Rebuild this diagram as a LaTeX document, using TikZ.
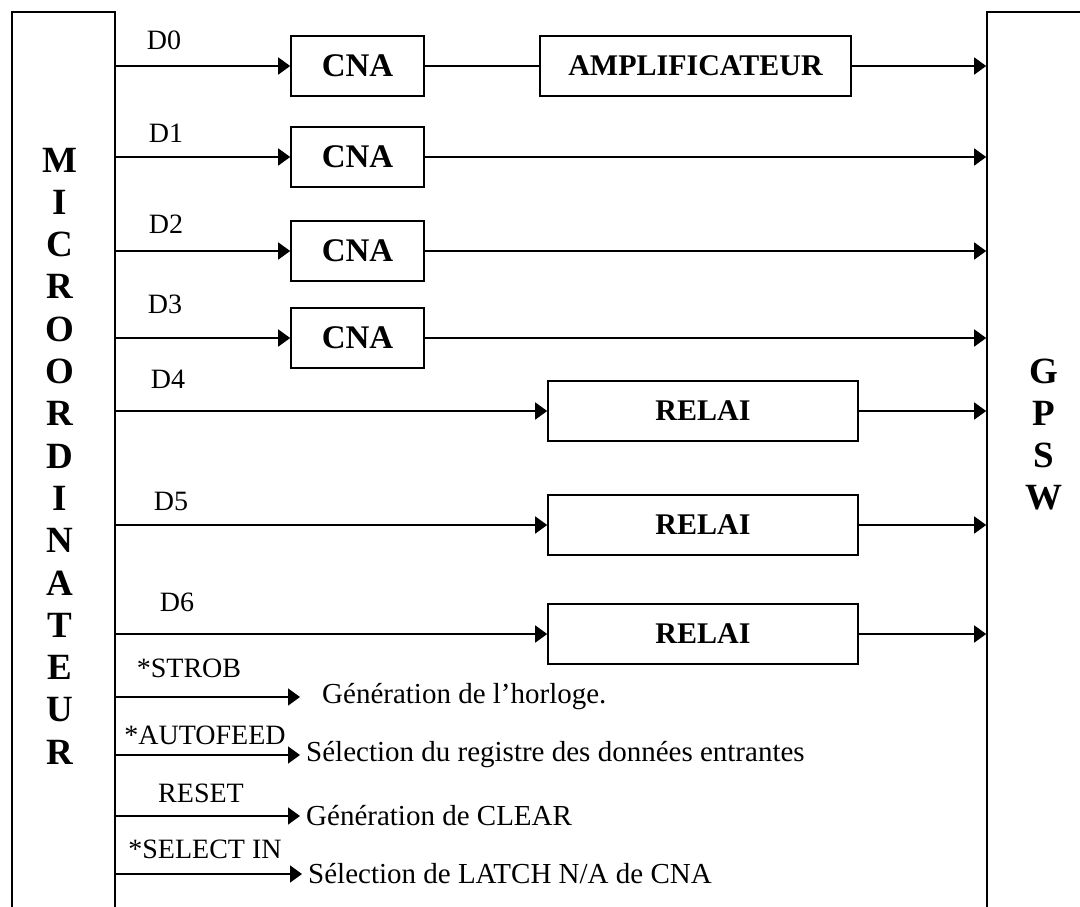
\documentclass[tikz,border=0pt]{standalone}
\usepackage{fontspec}
\setmainfont{Liberation Serif}
\usetikzlibrary{arrows.meta}

\begin{document}
\begin{tikzpicture}[x=1pt,y=-1pt,
		blk/.style={draw,line width=1.6pt,inner sep=0pt},
		cna/.style={blk,minimum width=133pt,minimum height=60pt,font=\fontsize{33}{38}\selectfont\bfseries},
		relai/.style={blk,minimum width=310pt,minimum height=60pt,font=\fontsize{30}{36}\selectfont\bfseries},
		lbl/.style={inner sep=0pt,font=\fontsize{28}{33}\selectfont},
		desc/.style={inner sep=0pt,anchor=west,inner xsep=6pt,font=\fontsize{29}{34}\selectfont},
		vert/.style={align=center,inner sep=0pt,font=\fontsize{37}{42.3}\selectfont\bfseries},
		wire/.style={line width=1.6pt},
		sig/.style={wire,-{Triangle[length=12pt,width=17pt]}}]
		\path[use as bounding box,clip] (0,0) rectangle (1080,906);
		\node[blk,minimum width=103pt,minimum height=918pt] (micro) at (63.5,471) {};
		\node[blk,minimum width=103pt,minimum height=918pt] (gps) at (1038.5,471) {};
		\node[vert] (microtxt) at (60,456) {M\\I\\C\\R\\O\\O\\R\\D\\I\\N\\A\\T\\E\\U\\R};
		\node[vert] (gpstxt) at (1044,434.5) {G\\P\\S\\W};
		\node[cna] (cna0) at (357.5,66) {CNA};
		\node[cna] (cna1) at (357.5,157) {CNA};
		\node[cna] (cna2) at (357.5,251) {CNA};
		\node[cna] (cna3) at (357.5,338) {CNA};
		\node[relai,minimum width=311pt] (ampli) at (695.5,66) {AMPLIFICATEUR};
		\node[relai] (rel4) at (703,411) {RELAI};
		\node[relai] (rel5) at (703,525) {RELAI};
		\node[relai] (rel6) at (703,634) {RELAI};
		\draw[sig] (micro.east |- cna0) -- (cna0.west);
		\draw[wire] (cna0.east) -- (ampli.west);
		\draw[sig] (ampli.east) -- (gps.west |- ampli);
		\foreach \n in {1,2,3} {
			\draw[sig] (micro.east |- cna\n) -- (cna\n.west);
			\draw[sig] (cna\n.east) -- (gps.west |- cna\n);
		}
		\foreach \n in {4,5,6} {
			\draw[sig] (micro.east |- rel\n) -- (rel\n.west);
			\draw[sig] (rel\n.east) -- (gps.west |- rel\n);
		}
		\foreach \n/\x/\y in {0/164/40,1/166/133,2/166/224,3/165/304,4/168/379,5/171/501,6/177/602}
			\node[lbl] (d\n) at (\x,\y) {D\n};
		\node[lbl] (strob) at (189,668) {*STROB};
		\node[lbl] (autofeed) at (205,735) {*AUTOFEED};
		\node[lbl] (reset) at (201,793) {RESET};
		\node[lbl] (select) at (205,849) {*SELECT IN};
		\node[desc,inner xsep=22pt] (clock) at (300,697) {Génération de l’horloge.};
		\node[desc] (datareg) at (300,755) {Sélection du registre des données entrantes};
		\node[desc] (clear) at (300,816) {Génération de CLEAR};
		\node[desc] (latch) at (302,874) {Sélection de LATCH N/A de CNA};
		\draw[sig] (micro.east |- clock) -- (clock.west);
		\draw[sig] (micro.east |- datareg) -- (datareg.west);
		\draw[sig] (micro.east |- clear) -- (clear.west);
		\draw[sig] (micro.east |- latch) -- (latch.west);
	\end{tikzpicture}
\end{document}
